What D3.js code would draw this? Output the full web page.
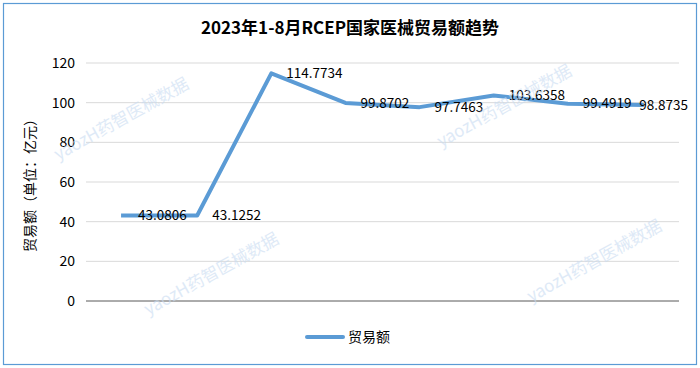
<!DOCTYPE html>
<html>
<head>
<meta charset="utf-8">
<script src="https://cdn.jsdelivr.net/npm/d3@7"></script>
<style>
  html, body { margin: 0; padding: 0; background: #fff; }
  svg { display: block; font-family: "Noto Sans CJK SC", "Noto Sans", sans-serif; }
</style>
</head>
<body>
<div id="chart"></div>
<script>
const months = ['1月', '2月', '3月', '4月', '5月', '6月', '7月', '8月'];
const values = [43.0806, 43.1252, 114.7734, 99.8702, 97.7463, 103.6358, 99.4919, 98.8735];
const yTicks = [0, 20, 40, 60, 80, 100, 120];
const seriesName = '贸易额';
const title = '2023年1-8月RCEP国家医械贸易额趋势';
const yTitle = '贸易额（单位：亿元）';
const watermark = 'yaozH药智医械数据';
const watermarkSpots = [[122, 120], [212, 275], [505, 107], [595, 262]];

const W = 700, H = 368;
const margin = { top: 63, right: 21, bottom: 67, left: 86 };
const innerW = W - margin.left - margin.right;
const innerH = H - margin.top - margin.bottom;
const blue = '#5b9bd5';

const svg = d3.select('#chart').append('svg')
  .attr('width', W)
  .attr('height', H);

// outer frame
svg.append('rect')
  .attr('x', 3.5).attr('y', 3.5)
  .attr('width', W - 7).attr('height', H - 7)
  .attr('fill', '#fff')
  .attr('stroke', blue)
  .attr('stroke-width', 1.2);

svg.append('text')
  .attr('x', W / 2)
  .attr('y', 34)
  .attr('text-anchor', 'middle')
  .attr('font-size', '17px')
  .attr('font-weight', 'bold')
  .attr('fill', '#000')
  .text(title);

const x = d3.scaleBand().domain(months).range([0, innerW]);
const y = d3.scaleLinear().domain([0, 120]).range([innerH, 0]);

const g = svg.append('g').attr('transform', `translate(${margin.left},${margin.top})`);

// grid
g.selectAll('line.grid')
  .data(yTicks.filter((t) => t !== 0))
  .join('line')
  .attr('class', 'grid')
  .attr('x1', 0).attr('x2', innerW)
  .attr('y1', (d) => y(d)).attr('y2', (d) => y(d))
  .attr('stroke', '#d9d9d9')
  .attr('stroke-width', 1);

const yAxis = g.append('g')
  .call(d3.axisLeft(y).tickValues(yTicks).tickSize(0).tickPadding(11));
yAxis.select('.domain').remove();
yAxis.selectAll('text')
  .attr('font-size', '14px')
  .attr('fill', '#000')
  .style('font-family', '"Noto Sans CJK SC", sans-serif');

// baseline
g.append('line')
  .attr('x1', 0).attr('x2', innerW)
  .attr('y1', y(0)).attr('y2', y(0))
  .attr('stroke', '#595959')
  .attr('stroke-width', 1);

svg.append('text')
  .attr('transform', `translate(35,${margin.top + innerH / 2}) rotate(-90)`)
  .attr('text-anchor', 'middle')
  .attr('font-size', '14px')
  .attr('fill', '#000')
  .text(yTitle);

// watermarks
svg.selectAll('text.wm')
  .data(watermarkSpots)
  .join('text')
  .attr('class', 'wm')
  .attr('transform', (d) => `translate(${d[0]},${d[1]}) rotate(-29)`)
  .attr('text-anchor', 'middle')
  .attr('dominant-baseline', 'middle')
  .attr('font-size', '17px')
  .attr('fill', '#c9dcf2')
  .attr('opacity', 0.6)
  .text(watermark);

const cx = (d, i) => x(months[i]) + x.bandwidth() / 2;

const line = d3.line()
  .x((d, i) => cx(d, i))
  .y((d) => y(d));

g.append('path')
  .datum(values)
  .attr('d', line)
  .attr('fill', 'none')
  .attr('stroke', blue)
  .attr('stroke-width', 4)
  .attr('stroke-linejoin', 'round')
  .attr('stroke-linecap', 'square');

// data labels sit right of each point; pushed left if they would pass the frame
const labelMaxRight = 688 - margin.left;
g.selectAll('text.lbl')
  .data(values)
  .join('text')
  .attr('class', 'lbl')
  .attr('y', (d) => y(d))
  .attr('dy', '0.35em')
  .attr('font-size', '13.5px')
  .attr('fill', '#000')
  .text((d) => d.toFixed(4))
  .attr('x', function (d, i) {
    const w = this.getComputedTextLength();
    return Math.min(cx(d, i) + 15, labelMaxRight - w);
  });

// legend
const lg = svg.append('g').attr('transform', `translate(307,337)`);
lg.append('line')
  .attr('x1', 0).attr('x2', 36)
  .attr('stroke', blue)
  .attr('stroke-width', 4)
  .attr('stroke-linecap', 'round');
lg.append('text')
  .attr('x', 41)
  .attr('dy', '0.35em')
  .attr('font-size', '14px')
  .attr('fill', '#000')
  .text(seriesName);
</script>
</body>
</html>
